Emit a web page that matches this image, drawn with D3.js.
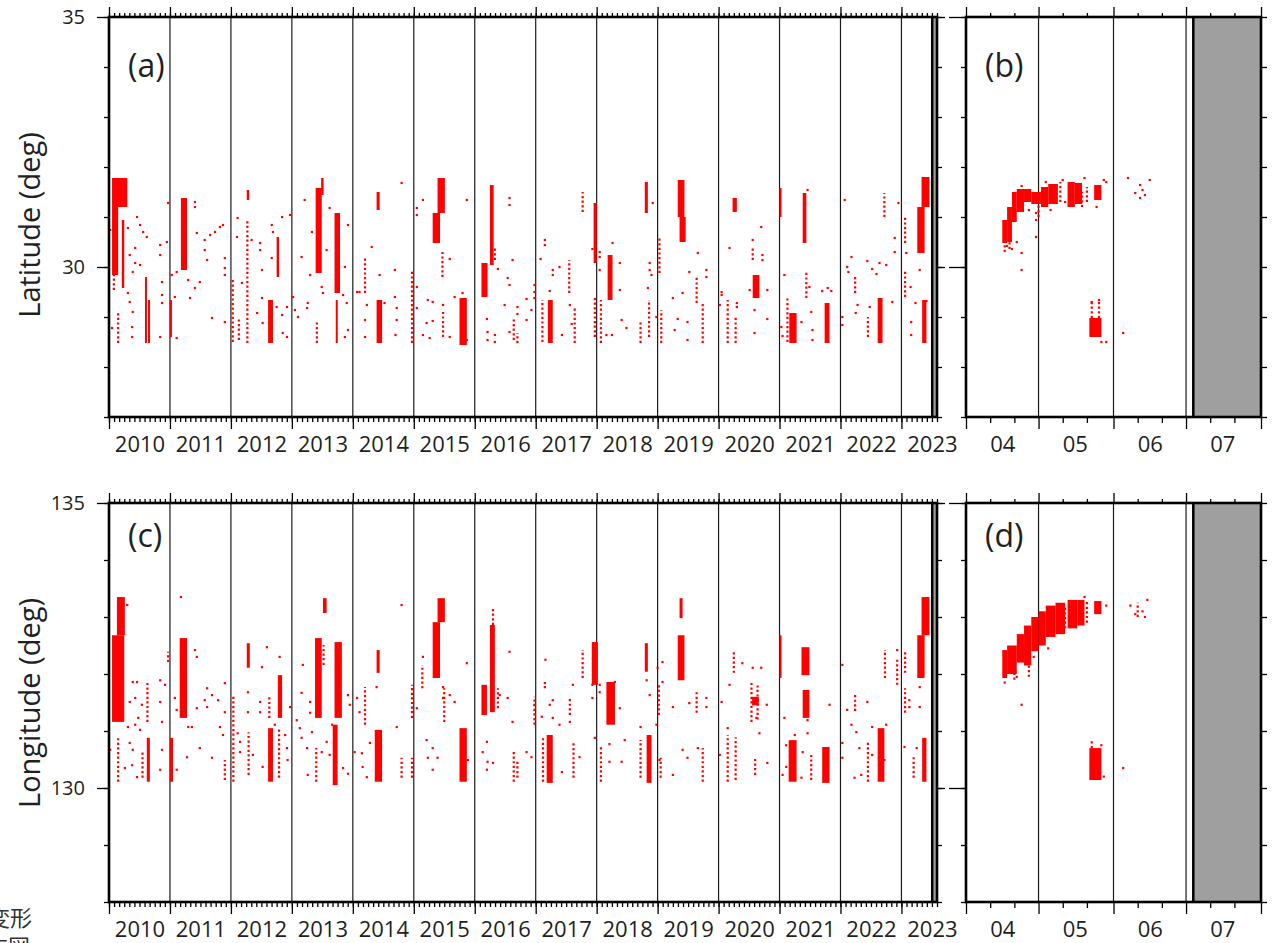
<!DOCTYPE html>
<html>
<head>
<meta charset="utf-8">
<script src="https://cdn.jsdelivr.net/npm/d3@7"></script>
<style>
body { margin: 0; background: #fff; }
</style>
</head>
<body>
<svg id="chart" width="1279" height="943"></svg>
<script>
// ---- data: long period (decimal year) ----
// dense clusters: [t0, t1, low, high]
var latDense = [
    [2010.05, 2010.30, 31.20, 31.78], [2010.05, 2010.15, 29.84, 31.20], [2010.21, 2010.25, 29.58, 30.94],
    [2010.59, 2010.62, 28.48, 29.80], [2010.64, 2010.67, 28.48, 29.34], [2011.18, 2011.28, 29.94, 31.38],
    [2011.00, 2011.03, 28.60, 29.34], [2012.26, 2012.30, 31.34, 31.54], [2012.61, 2012.69, 28.48, 29.34],
    [2012.75, 2012.79, 29.80, 30.60], [2013.39, 2013.49, 29.88, 31.58], [2013.48, 2013.52, 31.44, 31.78],
    [2013.70, 2013.79, 29.48, 31.08], [2013.72, 2013.75, 28.48, 29.34], [2014.39, 2014.44, 31.14, 31.50],
    [2014.39, 2014.48, 28.48, 29.34], [2015.39, 2015.51, 31.08, 31.78], [2015.31, 2015.43, 30.48, 31.08],
    [2015.75, 2015.87, 28.44, 29.38], [2016.25, 2016.31, 30.04, 31.64], [2016.11, 2016.21, 29.40, 30.08],
    [2017.20, 2017.28, 28.48, 29.34], [2017.95, 2018.00, 30.08, 31.28], [2018.18, 2018.26, 29.34, 30.24],
    [2018.79, 2018.84, 31.08, 31.70], [2019.33, 2019.44, 31.00, 31.74], [2019.36, 2019.46, 30.50, 31.00],
    [2020.23, 2020.30, 31.10, 31.38], [2020.56, 2020.67, 29.38, 29.84], [2021.00, 2021.03, 31.00, 31.58],
    [2021.38, 2021.44, 30.48, 31.48], [2021.16, 2021.28, 28.48, 29.08], [2021.74, 2021.82, 28.48, 29.28],
    [2022.61, 2022.69, 28.48, 29.38], [2023.33, 2023.46, 31.20, 31.80], [2023.26, 2023.38, 30.28, 31.20],
    [2023.34, 2023.41, 28.48, 29.34]
];
// sparse columns: [t, low, high]
var latSparse = [
    [2010.15, 28.48, 29.10], [2010.08, 29.54, 29.84], [2012.27, 28.48, 30.94], [2012.03, 28.50, 29.74],
    [2012.13, 28.54, 29.00], [2013.41, 28.48, 28.94], [2014.20, 29.48, 30.20], [2014.97, 28.48, 29.94],
    [2015.47, 29.80, 30.30], [2015.48, 28.60, 29.10], [2016.33, 30.14, 30.40], [2016.64, 28.54, 29.00],
    [2016.70, 28.48, 28.68], [2017.11, 28.50, 29.34], [2017.55, 29.48, 30.14], [2017.77, 31.10, 31.50],
    [2017.64, 28.48, 29.20], [2017.97, 28.60, 29.40], [2018.07, 28.48, 29.34], [2018.86, 28.60, 29.34],
    [2018.72, 28.48, 28.90], [2019.03, 29.88, 30.60], [2019.06, 28.48, 29.14], [2019.64, 29.28, 29.80],
    [2019.74, 28.48, 29.28], [2020.15, 28.48, 29.34], [2020.28, 28.48, 29.00], [2020.56, 30.14, 30.40],
    [2021.44, 29.38, 29.90], [2021.13, 28.50, 29.40], [2022.24, 29.48, 29.80], [2022.45, 28.60, 29.00],
    [2022.72, 31.00, 31.48], [2023.06, 30.48, 31.00], [2023.06, 29.40, 29.94]
];
// single events: [t, value]
var latPoints = [
    [2010.46, 31.00], [2010.31, 30.78], [2010.51, 30.84], [2010.56, 30.70], [2010.62, 30.60], [2010.43, 30.38],
    [2010.84, 30.44], [2010.84, 30.24], [2010.95, 30.50], [2010.34, 30.24], [2010.43, 30.08], [2010.51, 30.04],
    [2010.39, 29.90], [2010.31, 29.48], [2010.34, 29.30], [2010.39, 29.10], [2010.38, 28.80], [2010.38, 28.60],
    [2010.87, 29.70], [2010.87, 29.44], [2010.87, 29.28], [2010.84, 28.60], [2010.05, 28.78], [2010.02, 30.74],
    [2010.97, 31.28], [2011.03, 29.84], [2011.11, 29.90], [2011.08, 29.40], [2011.11, 28.58], [2011.33, 29.38],
    [2011.30, 29.74], [2011.41, 29.58], [2011.49, 29.70], [2011.41, 31.30], [2011.41, 31.20], [2011.44, 30.68],
    [2011.57, 30.54], [2011.57, 30.34], [2011.61, 30.14], [2011.66, 30.64], [2011.74, 30.70], [2011.82, 30.80],
    [2011.87, 30.84], [2011.69, 28.98], [2011.90, 30.18], [2011.90, 29.98], [2011.90, 29.84], [2011.90, 28.90],
    [2012.11, 30.98], [2012.10, 30.60], [2012.18, 29.68], [2012.34, 30.54], [2012.48, 30.48], [2012.48, 30.34],
    [2012.51, 29.94], [2012.67, 30.84], [2012.69, 30.70], [2012.84, 31.00], [2012.97, 31.04], [2012.67, 30.18],
    [2012.51, 29.38], [2012.52, 28.88], [2012.75, 29.20], [2012.84, 29.04], [2012.85, 28.68], [2012.92, 29.20],
    [2012.92, 28.60], [2012.43, 29.08], [2013.02, 29.40], [2013.05, 29.14], [2013.10, 29.00], [2013.16, 30.20],
    [2013.21, 31.34], [2013.30, 29.84], [2013.33, 30.70], [2013.26, 29.28], [2013.25, 29.18], [2013.49, 29.60],
    [2013.51, 29.48], [2013.57, 30.34], [2013.62, 31.18], [2013.84, 29.44], [2013.90, 29.28], [2013.92, 30.84],
    [2013.87, 30.00], [2013.92, 28.74], [2013.87, 28.60], [2014.07, 29.50], [2014.11, 29.50], [2014.23, 29.24],
    [2014.31, 30.40], [2014.20, 28.94], [2014.20, 28.60], [2014.52, 29.28], [2014.80, 31.68], [2014.44, 29.84],
    [2014.69, 29.94], [2014.69, 29.40], [2014.72, 29.18], [2014.72, 28.94], [2014.70, 28.64], [2015.05, 31.18],
    [2015.05, 31.04], [2015.05, 29.60], [2015.05, 29.18], [2015.15, 31.34], [2015.23, 29.34], [2015.21, 28.88],
    [2015.31, 29.30], [2015.31, 28.92], [2015.48, 29.24], [2015.15, 28.64], [2015.26, 28.58], [2015.59, 30.16],
    [2015.59, 28.60], [2015.67, 29.40], [2015.80, 29.48], [2015.87, 31.34], [2015.87, 28.54], [2016.20, 28.96],
    [2016.21, 28.70], [2016.21, 28.54], [2016.33, 28.64], [2016.33, 28.50], [2016.38, 29.96], [2016.49, 29.24],
    [2016.54, 29.78], [2016.57, 29.64], [2016.57, 31.38], [2016.57, 31.24], [2016.62, 30.14], [2016.57, 28.70],
    [2016.70, 29.20], [2016.70, 29.06], [2016.85, 29.36], [2016.85, 28.94], [2016.93, 29.14], [2016.98, 29.64],
    [2016.98, 29.50], [2016.98, 29.38], [2017.08, 30.16], [2017.15, 30.54], [2017.15, 30.44], [2017.23, 29.52],
    [2017.28, 29.94], [2017.28, 29.84], [2017.39, 30.00], [2017.43, 28.64], [2017.56, 29.24], [2017.59, 28.86],
    [2017.93, 30.36], [2018.05, 30.30], [2018.05, 30.20], [2018.05, 29.94], [2018.16, 28.64], [2018.25, 28.64],
    [2018.26, 30.48], [2018.41, 28.94], [2018.38, 30.08], [2018.38, 29.54], [2018.49, 28.78], [2018.84, 29.58],
    [2018.87, 30.08], [2018.87, 29.94], [2018.92, 31.28], [2018.98, 29.00], [2018.90, 29.84], [2019.25, 29.38],
    [2019.28, 28.74], [2019.33, 28.96], [2019.41, 29.48], [2019.49, 28.90], [2019.49, 28.54], [2019.52, 29.90],
    [2019.66, 30.28], [2019.80, 29.94], [2019.80, 29.80], [2020.02, 29.24], [2020.05, 29.50], [2020.05, 29.44],
    [2020.18, 30.38], [2020.30, 29.28], [2020.30, 29.20], [2020.51, 29.54], [2020.56, 30.54], [2020.59, 29.14],
    [2020.70, 30.80], [2020.72, 30.24], [2020.72, 30.14], [2020.80, 29.54], [2020.80, 28.96], [2020.59, 28.68],
    [2021.03, 28.80], [2021.05, 28.62], [2021.08, 29.84], [2021.36, 28.90], [2021.46, 31.54], [2021.49, 29.60],
    [2021.52, 29.10], [2021.54, 28.74], [2021.54, 28.54], [2021.70, 29.52], [2021.79, 29.58], [2021.85, 29.52],
    [2022.03, 29.00], [2022.03, 28.84], [2022.11, 30.00], [2022.13, 29.90], [2022.18, 30.20], [2022.25, 29.08],
    [2022.28, 29.24], [2022.07, 31.34], [2022.44, 30.12], [2022.48, 29.20], [2022.52, 29.96], [2022.59, 29.86],
    [2022.64, 30.08], [2022.75, 30.04], [2022.85, 29.30], [2022.89, 30.58], [2022.89, 30.30], [2022.95, 31.28],
    [2023.08, 30.28], [2023.16, 28.90], [2023.16, 28.64], [2023.23, 29.28], [2023.15, 29.60], [2023.30, 29.94],
    [2023.41, 29.32]
];

var lonDense = [
    [2010.13, 2010.26, 132.68, 133.35], [2010.05, 2010.25, 131.16, 132.68], [2010.62, 2010.67, 130.11, 130.88],
    [2011.16, 2011.28, 131.23, 132.63], [2011.00, 2011.05, 130.11, 130.88], [2012.26, 2012.31, 132.11, 132.54],
    [2012.61, 2012.69, 130.11, 131.05], [2012.77, 2012.84, 131.23, 131.98], [2013.38, 2013.49, 131.23, 132.63],
    [2013.51, 2013.57, 133.07, 133.33], [2013.70, 2013.82, 131.23, 132.56], [2013.67, 2013.75, 130.05, 131.11],
    [2014.39, 2014.44, 132.02, 132.42], [2014.36, 2014.48, 130.11, 131.02], [2015.39, 2015.51, 132.91, 133.33],
    [2015.31, 2015.43, 131.93, 132.91], [2015.75, 2015.87, 130.11, 131.05], [2016.25, 2016.33, 131.33, 132.86],
    [2016.11, 2016.20, 131.28, 131.81], [2017.18, 2017.28, 130.09, 130.93], [2017.92, 2018.02, 131.81, 132.56],
    [2018.16, 2018.30, 131.11, 131.86], [2018.79, 2018.84, 132.04, 132.54], [2018.82, 2018.90, 130.09, 130.93],
    [2019.33, 2019.44, 131.89, 132.68], [2019.36, 2019.41, 132.98, 133.33], [2020.55, 2020.66, 131.45, 131.60],
    [2021.00, 2021.02, 131.93, 132.68], [2021.36, 2021.49, 131.98, 132.47], [2021.38, 2021.49, 131.23, 131.72],
    [2021.15, 2021.28, 130.11, 130.84], [2021.70, 2021.82, 130.09, 130.72], [2022.61, 2022.72, 130.11, 131.05],
    [2023.33, 2023.46, 132.68, 133.35], [2023.26, 2023.38, 131.93, 132.68], [2023.34, 2023.41, 130.11, 130.88]
];
var lonSparse = [
    [2010.63, 131.16, 131.84], [2010.15, 130.11, 130.88], [2010.55, 130.18, 130.63], [2010.97, 132.21, 132.39],
    [2011.90, 130.14, 130.49], [2012.04, 130.11, 131.60], [2012.29, 130.23, 130.98], [2012.63, 131.23, 131.60],
    [2012.79, 130.18, 131.05], [2013.40, 130.11, 130.70], [2013.52, 132.16, 132.51], [2014.20, 131.11, 131.77],
    [2014.97, 131.23, 131.81], [2014.97, 130.18, 130.53], [2014.80, 130.18, 130.53], [2015.50, 131.16, 131.75],
    [2015.14, 131.75, 132.16], [2016.30, 132.86, 133.17], [2016.38, 131.40, 131.75], [2016.64, 130.11, 130.63],
    [2016.70, 130.18, 130.46], [2016.98, 131.11, 131.60], [2017.12, 130.11, 130.89], [2017.56, 131.28, 131.60],
    [2017.77, 131.93, 132.42], [2017.62, 130.18, 130.81], [2018.07, 130.11, 130.75], [2018.72, 130.18, 130.84],
    [2019.02, 131.28, 131.81], [2019.05, 130.18, 130.53], [2019.64, 131.32, 131.72], [2019.74, 130.11, 130.70],
    [2020.15, 130.11, 130.93], [2020.28, 130.14, 130.89], [2020.25, 132.02, 132.42], [2020.54, 131.16, 131.86],
    [2020.64, 131.20, 131.80], [2020.60, 130.23, 130.53], [2021.52, 130.14, 130.58], [2022.24, 131.35, 131.67],
    [2022.45, 130.11, 130.81], [2022.73, 131.93, 132.42], [2022.93, 131.81, 132.28], [2023.06, 132.02, 132.42],
    [2023.06, 131.32, 131.75], [2023.20, 130.18, 130.58]
];
var lonPoints = [
    [2010.02, 130.67], [2010.30, 133.21], [2010.34, 131.51], [2010.39, 131.86], [2010.46, 131.86], [2010.43, 131.58],
    [2010.54, 131.46], [2010.48, 131.23], [2010.31, 131.07], [2010.43, 131.11], [2010.51, 131.02], [2010.34, 130.79],
    [2010.39, 130.67], [2010.38, 130.40], [2010.26, 130.35], [2010.46, 130.19], [2010.84, 131.89], [2010.84, 131.51],
    [2010.87, 131.16], [2010.87, 130.67], [2010.84, 130.32], [2010.92, 131.81], [2011.08, 131.58], [2011.11, 131.37],
    [2011.11, 130.32], [2011.30, 131.07], [2011.36, 131.07], [2011.28, 130.54], [2011.44, 131.40], [2011.49, 130.70],
    [2011.41, 132.42], [2011.44, 132.30], [2011.61, 131.75], [2011.57, 131.54], [2011.61, 131.42], [2011.69, 131.63],
    [2011.69, 130.53], [2011.79, 131.54], [2011.82, 131.07], [2011.87, 130.93], [2011.90, 131.84], [2011.90, 131.33],
    [2011.18, 133.35], [2012.11, 130.96], [2012.15, 130.81], [2012.15, 130.63], [2012.28, 131.68], [2012.28, 131.33],
    [2012.36, 130.58], [2012.51, 132.12], [2012.48, 131.51], [2012.48, 131.33], [2012.59, 132.47], [2012.52, 130.37],
    [2012.72, 131.11], [2012.80, 132.30], [2012.89, 130.93], [2012.92, 130.70], [2012.93, 130.49], [2012.97, 131.42],
    [2013.08, 131.19], [2013.13, 131.05], [2013.16, 130.88], [2013.18, 132.16], [2013.16, 131.67], [2013.25, 130.70],
    [2013.26, 130.23], [2013.30, 131.51], [2013.33, 130.98], [2013.30, 131.32], [2013.49, 130.63], [2013.57, 130.81],
    [2013.62, 130.58], [2013.66, 131.11], [2013.84, 130.35], [2013.92, 130.25], [2013.92, 131.63], [2013.95, 131.46],
    [2014.07, 131.58], [2014.11, 131.33], [2014.03, 130.63], [2014.15, 130.61], [2014.16, 130.37], [2014.23, 130.19],
    [2014.39, 131.77], [2014.28, 130.79], [2014.72, 131.07], [2014.80, 133.21], [2015.05, 131.40], [2015.15, 132.30],
    [2015.21, 130.84], [2015.23, 130.53], [2015.31, 130.32], [2015.31, 130.70], [2015.39, 130.53], [2015.48, 131.77],
    [2015.48, 131.58], [2015.59, 131.63], [2015.67, 131.51], [2015.87, 132.19], [2015.89, 130.49], [2016.13, 130.63],
    [2016.20, 130.81], [2016.21, 130.46], [2016.20, 130.32], [2016.30, 130.44], [2016.41, 131.63], [2016.54, 131.58],
    [2016.57, 132.39], [2016.62, 131.16], [2016.85, 130.63], [2016.93, 130.54], [2016.98, 131.46], [2017.10, 131.25],
    [2017.16, 132.25], [2017.15, 131.84], [2017.15, 131.77], [2017.23, 131.46], [2017.28, 131.54], [2017.28, 131.23],
    [2017.39, 131.11], [2017.43, 130.28], [2017.56, 131.16], [2017.61, 131.81], [2017.72, 130.54], [2017.93, 131.81],
    [2017.93, 131.58], [2017.97, 130.88], [2018.05, 131.81], [2018.05, 131.68], [2018.21, 130.46], [2018.21, 130.77],
    [2018.30, 131.86], [2018.38, 131.40], [2018.41, 130.46], [2018.46, 130.84], [2018.72, 131.07], [2018.82, 131.89],
    [2018.87, 131.63], [2018.98, 131.11], [2019.00, 132.11], [2019.03, 130.49], [2019.08, 132.21], [2019.08, 131.86],
    [2019.25, 131.42], [2019.25, 130.23], [2019.41, 130.67], [2019.49, 130.53], [2019.52, 131.49], [2019.66, 130.70],
    [2019.80, 131.58], [2019.80, 131.42], [2020.02, 130.58], [2020.05, 131.51], [2020.15, 131.05], [2020.18, 131.81],
    [2020.39, 132.19], [2020.56, 132.11], [2020.62, 131.23], [2020.67, 130.96], [2020.70, 132.11], [2020.79, 131.46],
    [2020.80, 130.44], [2021.05, 130.23], [2021.08, 131.23], [2021.11, 130.75], [2021.11, 130.37], [2021.25, 130.93],
    [2021.36, 130.18], [2021.38, 130.63], [2021.46, 130.96], [2021.46, 131.19], [2021.82, 131.46], [2022.03, 132.16],
    [2022.03, 130.79], [2022.03, 130.53], [2022.11, 131.37], [2022.18, 131.11], [2022.26, 130.98], [2022.23, 130.18],
    [2022.31, 130.70], [2022.34, 130.23], [2022.44, 131.51], [2022.52, 131.07], [2022.52, 130.58], [2022.75, 131.11],
    [2022.72, 130.49], [2022.93, 132.42], [2023.05, 130.72], [2023.13, 131.54], [2023.13, 131.42], [2023.25, 130.70],
    [2023.30, 131.42], [2023.30, 131.77]
];

// ---- data: 2023 close-up (dates) ----
var bLatDense = [
    ["2023-04-16", "2023-04-18", 30.48, 30.94], ["2023-04-18", "2023-04-20", 30.50, 31.20],
    ["2023-04-20", "2023-04-22", 30.90, 31.50], ["2023-04-22", "2023-04-25", 31.10, 31.56],
    ["2023-04-25", "2023-04-28", 31.30, 31.56], ["2023-04-28", "2023-05-02", 31.26, 31.50],
    ["2023-05-02", "2023-05-05", 31.20, 31.60], ["2023-05-05", "2023-05-09", 31.26, 31.66],
    ["2023-05-13", "2023-05-16", 31.20, 31.70], ["2023-05-16", "2023-05-19", 31.26, 31.68],
    ["2023-05-24", "2023-05-27", 31.34, 31.64], ["2023-05-22", "2023-05-27", 28.60, 28.98]
];
var bLatSparse = [
    ["2023-05-23", 28.98, 29.34], ["2023-05-26", 28.98, 29.30], ["2023-04-17", 30.30, 30.48],
    ["2023-04-19", 30.36, 30.50], ["2023-05-10", 31.30, 31.70], ["2023-05-21", 31.30, 31.60],
    ["2023-05-01", 31.00, 31.26], ["2023-05-19", 31.20, 31.50]
];
var bLatPoints = [
    ["2023-04-18", 30.42], ["2023-04-20", 30.36], ["2023-04-22", 30.50], ["2023-04-24", 30.28], ["2023-04-24", 29.94],
    ["2023-04-30", 30.60], ["2023-04-30", 30.94], ["2023-04-30", 31.08], ["2023-05-25", 31.20], ["2023-05-29", 31.70],
    ["2023-05-20", 31.78], ["2023-06-07", 31.78], ["2023-06-05", 28.68], ["2023-05-26", 29.34], ["2023-05-23", 29.30],
    ["2023-05-27", 28.50], ["2023-05-29", 28.50], ["2023-06-12", 31.64], ["2023-06-13", 31.54], ["2023-06-14", 31.44],
    ["2023-06-16", 31.74], ["2023-06-10", 31.48], ["2023-06-12", 31.38], ["2023-05-11", 31.74], ["2023-05-04", 31.70],
    ["2023-04-27", 31.14], ["2023-05-28", 31.74], ["2023-05-06", 31.14], ["2023-05-12", 31.30], ["2023-04-24", 31.62]
];

var dLonDense = [
    ["2023-04-16", "2023-04-18", 131.93, 132.42], ["2023-04-18", "2023-04-22", 132.00, 132.50],
    ["2023-04-22", "2023-04-25", 132.20, 132.70], ["2023-04-25", "2023-04-28", 132.15, 132.85],
    ["2023-04-28", "2023-05-01", 132.40, 133.00], ["2023-05-01", "2023-05-04", 132.50, 133.10],
    ["2023-05-04", "2023-05-08", 132.65, 133.20], ["2023-05-08", "2023-05-12", 132.70, 133.25],
    ["2023-05-13", "2023-05-17", 132.80, 133.30], ["2023-05-17", "2023-05-20", 132.85, 133.30],
    ["2023-05-24", "2023-05-27", 133.05, 133.28], ["2023-05-22", "2023-05-27", 130.14, 130.70]
];
var dLonSparse = [
    ["2023-05-23", 130.70, 130.84], ["2023-06-11", 133.00, 133.25], ["2023-04-21", 131.90, 132.00],
    ["2023-04-27", 131.95, 132.15], ["2023-05-12", 132.80, 133.20], ["2023-05-21", 132.90, 133.30]
];
var dLonPoints = [
    ["2023-04-24", 131.46], ["2023-06-05", 130.35], ["2023-04-17", 131.85], ["2023-04-22", 131.95], ["2023-04-29", 132.30],
    ["2023-05-05", 132.45], ["2023-05-29", 133.20], ["2023-06-08", 133.20], ["2023-06-10", 133.05], ["2023-06-13", 133.10],
    ["2023-06-15", 133.30], ["2023-06-14", 133.00], ["2023-05-20", 133.35], ["2023-05-28", 130.20], ["2023-05-27", 130.75]
];

var yearTicks = d3.range(2010, 2024);
var latLabels = [30, 35], lonLabels = [130, 135];

var svg = d3.select("#chart");
var font = "'Open Sans', sans-serif", ink = "#231f20", red = "#ff0000";

var xYear = d3.scaleLinear().domain([2010, 2023 + 7 / 12]).range([109, 937]);
var xDay = d3.scaleTime().domain([new Date(2023, 3, 1), new Date(2023, 7, 1)]).range([966, 1261]);
var yLat = d3.scaleLinear().domain([27, 35]).range([417, 17]);
var yLon = d3.scaleLinear().domain([128, 135]).range([902, 503]);
var parseDay = d3.timeParse("%Y-%m-%d");
var ident = function (d) { return d; };

function drawPanel(p) {
    var x0 = p.x.range()[0], x1 = p.x.range()[1],
        y0 = p.y.range()[1], y1 = p.y.range()[0];
    svg.append("clipPath").attr("id", "clip-" + p.name)
        .append("rect").attr("x", x0).attr("y", y0).attr("width", x1 - x0).attr("height", y1 - y0);
    var g = svg.append("g").attr("clip-path", "url(#clip-" + p.name + ")");

    // period with no data
    var gx = p.x(p.t(p.gap));
    g.append("rect").attr("x", gx).attr("y", y0).attr("width", x1 - gx).attr("height", y1 - y0)
        .attr("fill", "#9f9f9f");
    g.append("line").attr("x1", gx).attr("x2", gx).attr("y1", y0).attr("y2", y1)
        .attr("stroke", "#000").attr("stroke-width", 2.5);

    g.selectAll(".grid").data(p.grid).enter().append("line")
        .attr("x1", function (d) { return p.x(d); })
        .attr("x2", function (d) { return p.x(d); })
        .attr("y1", y0).attr("y2", y1)
        .attr("stroke", "#1a1a1a").attr("stroke-width", 1.2);

    g.selectAll(".dense").data(p.dense).enter().append("rect")
        .attr("x", function (d) { return p.x(p.t(d[0])); })
        .attr("width", function (d) { return Math.max(2, p.x(p.t(d[1])) - p.x(p.t(d[0]))); })
        .attr("y", function (d) { return p.y(d[3]); })
        .attr("height", function (d) { return p.y(d[2]) - p.y(d[3]); })
        .attr("fill", red);

    g.selectAll(".sparse").data(p.sparse).enter().append("line")
        .attr("x1", function (d) { return p.x(p.t(d[0])); })
        .attr("x2", function (d) { return p.x(p.t(d[0])); })
        .attr("y1", function (d) { return p.y(d[1]); })
        .attr("y2", function (d) { return p.y(d[2]); })
        .attr("stroke", red).attr("stroke-width", 2.2).attr("stroke-dasharray", "2.2,2.4");

    g.selectAll(".pt").data(p.pts).enter().append("rect")
        .attr("x", function (d) { return p.x(p.t(d[0])) - 1.1; })
        .attr("y", function (d) { return p.y(d[1]) - 1.1; })
        .attr("width", 2.2).attr("height", 2.2)
        .attr("fill", red);

    svg.append("rect").attr("x", x0).attr("y", y0).attr("width", x1 - x0).attr("height", y1 - y0)
        .attr("fill", "none").attr("stroke", "#000").attr("stroke-width", 2.6);

    svg.append("text").attr("x", x0 + 19).attr("y", p.labelY)
        .attr("font-family", font).attr("font-size", 32).attr("fill", ink)
        .text(p.label);
}

function addAxis(axis, tx, ty) {
    var a = svg.append("g").attr("transform", "translate(" + tx + "," + ty + ")").call(axis);
    a.select(".domain").remove();
    a.selectAll("line").attr("stroke", "#000").attr("stroke-width", 1.3);
    a.selectAll("text").attr("font-family", font).attr("fill", ink);
    return a;
}

var months = d3.range(0, 164).map(function (m) { return 2010 + m / 12; });
var dayMajor = [3, 4, 5, 6, 7].map(function (m) { return new Date(2023, m, 1); });
var dayMinor = [];
[3, 4, 5, 6].forEach(function (m) { dayMinor.push(new Date(2023, m, 11), new Date(2023, m, 21)); });
var monthMid = [3, 4, 5, 6].map(function (m) { return new Date(2023, m, 16); });

[[yLat, latLabels, "(a)", "(b)", 77, "a"], [yLon, lonLabels, "(c)", "(d)", 547, "c"]].forEach(function (row) {
    var y = row[0], labels = row[1], top = y.range()[1], bottom = y.range()[0];

    drawPanel({
        name: row[5], x: xYear, y: y, t: ident, gap: 2023.505, grid: d3.range(2011, 2024),
        dense: row[5] === "a" ? latDense : lonDense,
        sparse: row[5] === "a" ? latSparse : lonSparse,
        pts: row[5] === "a" ? latPoints : lonPoints,
        label: row[2], labelY: row[4]
    });
    drawPanel({
        name: row[5] + "2", x: xDay, y: y, t: parseDay, gap: "2023-07-04", grid: dayMajor.slice(1, 4),
        dense: row[5] === "a" ? bLatDense : dLonDense,
        sparse: row[5] === "a" ? bLatSparse : dLonSparse,
        pts: row[5] === "a" ? bLatPoints : dLonPoints,
        label: row[3], labelY: row[4]
    });

    // long-period time axes
    addAxis(d3.axisBottom(xYear).tickValues(months).tickSize(5).tickFormat(""), 0, bottom);
    addAxis(d3.axisBottom(xYear).tickValues(yearTicks).tickSize(12).tickFormat(""), 0, bottom);
    addAxis(d3.axisTop(xYear).tickValues(months).tickSize(4).tickFormat(""), 0, top);
    addAxis(d3.axisTop(xYear).tickValues(yearTicks).tickSize(10).tickFormat(""), 0, top);
    addAxis(d3.axisBottom(xYear).tickValues(yearTicks.map(function (d) { return d + 0.5; }))
        .tickSize(0).tickPadding(19).tickFormat(function (d) { return Math.floor(d); }), 0, bottom)
        .selectAll("text").attr("font-size", 22);

    // close-up time axes
    addAxis(d3.axisBottom(xDay).tickValues(dayMinor).tickSize(6).tickFormat(""), 0, bottom);
    addAxis(d3.axisBottom(xDay).tickValues(dayMajor).tickSize(12).tickFormat(""), 0, bottom);
    addAxis(d3.axisTop(xDay).tickValues(dayMinor).tickSize(4).tickFormat(""), 0, top);
    addAxis(d3.axisTop(xDay).tickValues(dayMajor).tickSize(10).tickFormat(""), 0, top);
    addAxis(d3.axisBottom(xDay).tickValues(monthMid).tickSize(0).tickPadding(19)
        .tickFormat(d3.timeFormat("%m")), 0, bottom)
        .selectAll("text").attr("font-size", 22);

    // value axes
    var all = d3.range(y.domain()[0], y.domain()[1] + 1);
    addAxis(d3.axisLeft(y).tickValues(all).tickSize(5).tickFormat(""), 109, 0);
    addAxis(d3.axisLeft(y).tickValues(labels).tickSize(12).tickPadding(12).tickFormat(d3.format("d")), 109, 0)
        .selectAll("text").attr("font-size", 20);
    addAxis(d3.axisRight(y).tickValues(all).tickSize(5).tickFormat(""), 937, 0);
    addAxis(d3.axisRight(y).tickValues(labels).tickSize(8).tickFormat(""), 937, 0);
    addAxis(d3.axisLeft(y).tickValues(all).tickSize(5).tickFormat(""), 966, 0);
    addAxis(d3.axisLeft(y).tickValues(labels).tickSize(17).tickFormat(""), 966, 0);
    addAxis(d3.axisRight(y).tickValues(all).tickSize(6).tickFormat(""), 1261, 0);
});

// axis titles
[["Latitude (deg)", 225], ["Longitude (deg)", 703]].forEach(function (t) {
    svg.append("text")
        .attr("transform", "translate(40," + t[1] + ") rotate(-90)")
        .attr("text-anchor", "middle")
        .attr("font-family", font).attr("font-size", 29).attr("fill", ink)
        .text(t[0]);
});

// leftover caption text cut by the page edge
svg.append("text").attr("x", 32).attr("y", 926).attr("text-anchor", "end")
    .attr("font-family", "'Noto Sans CJK JP'").attr("font-size", 22).attr("fill", "#333")
    .text("変形");
svg.append("text").attr("x", 30).attr("y", 955).attr("text-anchor", "end")
    .attr("font-family", "'Noto Sans CJK JP'").attr("font-size", 22).attr("fill", "#333")
    .text("布図");
</script>
</body>
</html>
